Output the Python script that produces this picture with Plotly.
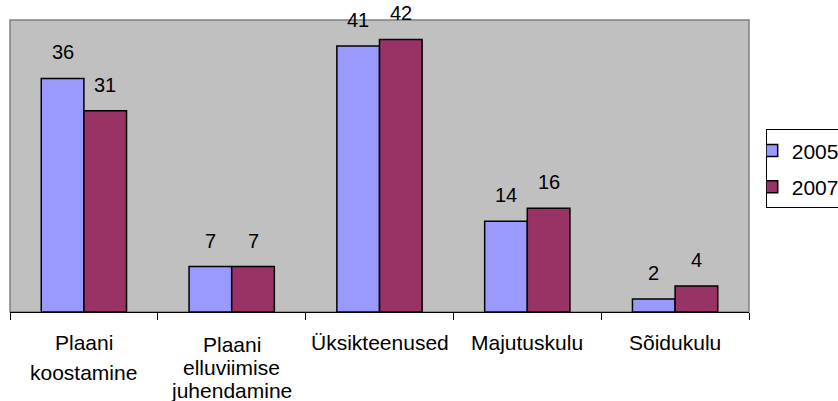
import plotly.graph_objects as go

# Expense categories, each possibly split over several text lines
categories = ["Plaani koostamine", "Plaani elluviimise juhendamine",
              "Üksikteenused", "Majutuskulu", "Sõidukulu"]
category_lines = [["Plaani", "koostamine"],
                  ["Plaani", "elluviimise", "juhendamine"],
                  ["Üksikteenused"], ["Majutuskulu"], ["Sõidukulu"]]
values_2005 = [36, 7, 41, 14, 2]
values_2007 = [31, 7, 42, 16, 4]
series_names = ["2005", "2007"]

FONT = "Liberation Sans, Arial, sans-serif"
W, H = 838, 401
M_L, M_R, M_T, M_B = 10, 89, 20, 89
BARGAP = 0.423
COLORS = ["#9999FF", "#993366"]

fig = go.Figure()
for name, vals, col in zip(series_names, [values_2005, values_2007], COLORS):
    fig.add_trace(go.Bar(
        name=name, x=categories, y=vals, legendgroup=name,
        marker=dict(color=col, line=dict(color="black", width=1.5)),
    ))

# value labels above each bar
bar_w = (1 - BARGAP) / 2
for s, vals in enumerate([values_2005, values_2007]):
    for i, v in enumerate(vals):
        fig.add_annotation(
            x=i + (s - 0.5) * bar_w, y=v, xref="x", yref="y",
            text=str(v), showarrow=False, yanchor="bottom", yshift=13,
            font=dict(family=FONT, size=20, color="black"),
        )

# category labels, one annotation per text line
plot_h = H - M_T - M_B


def paper_y(py):
    return (H - M_B - py) / plot_h


baselines = [[350, 380], [352, 375, 398], [350], [350], [350]]
for i, (lines, bls) in enumerate(zip(category_lines, baselines)):
    for line, bl in zip(lines, bls):
        fig.add_annotation(
            x=i, y=paper_y(bl + 5.5), xref="x", yref="paper",
            text=line, showarrow=False, yanchor="bottom",
            font=dict(family=FONT, size=21, color="black"),
        )

# grey frame of the plot area
fig.add_shape(type="rect", xref="paper", yref="paper", x0=0, x1=1, y0=0, y1=1,
              line=dict(color="#808080", width=1.5), layer="below")

fig.update_layout(
    width=W, height=H,
    margin=dict(l=M_L, r=M_R, t=M_T, b=M_B, autoexpand=False),
    paper_bgcolor="white", plot_bgcolor="#C0C0C0",
    barmode="group", bargap=BARGAP, bargroupgap=0,
    font=dict(family=FONT, size=21, color="black"),
    showlegend=True,
    legend=dict(
        x=(765.7 - M_L) / (W - M_L - M_R), y=paper_y(129.3),
        xanchor="left", yanchor="top",
        bgcolor="white", bordercolor="black", borderwidth=1,
        font=dict(family=FONT, size=21, color="black"),
        traceorder="grouped", tracegroupgap=6, indentation=-15,
    ),
    xaxis=dict(
        type="category", showticklabels=False, showgrid=False,
        showline=True, linecolor="black", linewidth=1,
        ticks="outside", tickson="boundaries", ticklen=7,
        tickcolor="black", tickwidth=1,
    ),
    yaxis=dict(range=[0, 45], showticklabels=False, showgrid=False,
               zeroline=False, ticks=""),
)

fig.write_html("out.html")
